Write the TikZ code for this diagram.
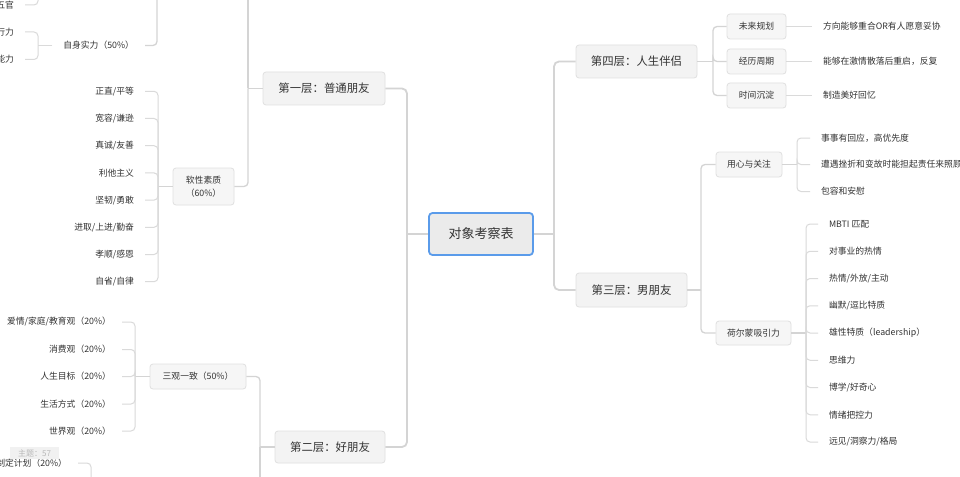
\documentclass[tikz,border=0pt]{standalone}
\usepackage{fontspec}
\setmainfont{Noto Sans CJK SC}
\definecolor{ln}{HTML}{D4D4D4}
\definecolor{lnl}{HTML}{DADADA}
\definecolor{txt}{HTML}{333333}
\definecolor{boxf}{HTML}{F3F3F3}
\definecolor{boxs}{HTML}{F6F6F6}
\definecolor{boxd}{HTML}{E0E0E0}
\definecolor{rootf}{HTML}{EBEBEB}
\definecolor{rootd}{HTML}{5A9BEA}
\definecolor{tagf}{HTML}{F1F1F1}
\definecolor{tagt}{HTML}{B8B8B8}
\tikzset{
  rootbox/.style={draw=rootd, line width=1.8pt, fill=rootf, rounded corners=3.5pt, minimum width=104pt, minimum height=42pt, inner sep=0pt, text=txt, font=\fontsize{13}{15}\selectfont},
  lvone/.style={draw=boxd, line width=0.8pt, fill=boxf, rounded corners=3pt, inner sep=0pt, text=txt, font=\fontsize{11.4}{14}\selectfont},
  lvtwo/.style={draw=boxd, line width=0.8pt, fill=boxs, rounded corners=3pt, inner sep=0pt, text=txt, font=\fontsize{8.8}{12.5}\selectfont, align=center},
  lleaf/.style={inner sep=0pt, outer xsep=11pt, text=txt, font=\fontsize{8.8}{11}\selectfont, anchor=east},
  rleaf/.style={inner sep=0pt, outer xsep=11pt, text=txt, font=\fontsize{8.8}{11}\selectfont, anchor=west},
  mainln/.style={draw=ln, line width=1.8pt, rounded corners=5pt},
  subln/.style={draw=ln, line width=1.3pt, rounded corners=4pt},
  tickln/.style={draw=lnl, line width=1pt, rounded corners=4pt},
  tagbox/.style={fill=tagf, text=tagt, inner sep=0pt, minimum width=49pt, minimum height=12pt, font=\fontsize{8}{10}\selectfont}
}
\begin{document}
\begin{tikzpicture}[x=1pt,y=-1pt]
\useasboundingbox (0,0) rectangle (960,476);
\fill[white] (0,0) rectangle (960,476);
\begin{scope}
\clip (0,0) rectangle (960,476);

% root and level one
\node[rootbox] (root) at (481,234) {对象考察表};
\node[lvone, minimum width=122pt, minimum height=33pt] (l1) at (324,88.5) {第一层：普通朋友};
\node[lvone, minimum width=110pt, minimum height=32pt] (l2) at (330,447) {第二层：好朋友};
\node[lvone, minimum width=121pt, minimum height=33pt] (l4) at (636.5,61.5) {第四层：人生伴侣};
\node[lvone, minimum width=111pt, minimum height=34pt] (l3) at (631.5,290) {第三层：男朋友};

\coordinate (jl) at (407,234);
\draw[mainln] (root.west) -- (jl);
\draw[mainln] (jl) |- (l1.east);
\draw[mainln] (jl) |- (l2.east);
\coordinate (jr) at (554,234);
\draw[mainln] (root.east) -- (jr);
\draw[mainln] (jr) |- (l4.west);
\draw[mainln] (jr) |- (l3.west);

% ---- first layer
\coordinate (j1) at (248,88.5);
\coordinate (offE) at (248,-10);
\draw[subln] (l1.west) -- (j1);
\draw[subln] (j1) -- (offE);
\node[lvtwo, minimum width=61pt, minimum height=37pt] (rx) at (203.5,186.5) {软性素质\\（60\%）};
\draw[subln] (j1) |- (rx.east);

\node[lleaf] (ss) at (145,45.5) {自身实力（50\%）};
\coordinate (offA) at (157,-10);
\draw[subln] (ss.east) -| (offA);
\coordinate (j2) at (38,45.5);
\draw[tickln] (ss.west) -- (j2);
\node[lleaf] (zx) at (25,32) {行力};
\node[lleaf] (nl) at (25,59.5) {能力};
\draw[tickln] (j2) |- (zx.east);
\draw[tickln] (j2) |- (nl.east);
\node[lleaf] (wg) at (25,5) {五官};
\coordinate (offB) at (38,-10);
\draw[tickln] (wg.east) -| (offB);

\coordinate (j3) at (158,186.5);
\draw[subln] (rx.west) -- (j3);
\foreach \t [count=\i from 0] in {正直/平等,宽容/谦逊,真诚/友善,利他主义,坚韧/勇敢,进取/上进/勤奋,孝顺/感恩,自省/自律}{
  \node[lleaf] (rx\i) at (145,{91.3+27.2*\i}) {\t};
  \draw[tickln] (j3) |- (rx\i.east);
}

% ---- second layer
\coordinate (j4) at (260,447);
\coordinate (offC) at (260,490);
\draw[subln] (l2.west) -- (j4);
\draw[subln] (j4) -- (offC);
\node[lvtwo, minimum width=96pt, minimum height=25pt] (sg) at (198,376.5) {三观一致（50\%）};
\draw[subln] (j4) |- (sg.east);
\coordinate (j5) at (135,376.5);
\draw[subln] (sg.west) -- (j5);
\node[lleaf] (sg0) at (122,322) {爱情/家庭/教育观（20\%）};
\node[lleaf] (sg1) at (122,349.5) {消费观（20\%）};
\node[lleaf] (sg2) at (122,376.5) {人生目标（20\%）};
\node[lleaf] (sg3) at (122,404) {生活方式（20\%）};
\node[lleaf] (sg4) at (122,431) {世界观（20\%）};
\foreach \i in {0,...,4}{\draw[tickln] (j5) |- (sg\i.east);}

\node[lleaf] (zd) at (78,463) {制定计划（20\%）};
\coordinate (offD) at (91,490);
\draw[tickln] (zd.east) -| (offD);
\node[tagbox] (tag) at (34.5,453) {主题：57};

% ---- fourth layer
\coordinate (j6) at (713,61.5);
\draw[subln] (l4.east) -- (j6);
\node[lvtwo, minimum width=59pt, minimum height=25pt] (wl) at (756.5,26.5) {未来规划};
\node[lvtwo, minimum width=59pt, minimum height=25pt] (jz) at (756.5,61.5) {经历周期};
\node[lvtwo, minimum width=59pt, minimum height=25pt] (sj) at (756.5,95.5) {时间沉淀};
\draw[subln] (j6) |- (wl.west);
\draw[subln] (j6) |- (jz.west);
\draw[subln] (j6) |- (sj.west);
\node[rleaf] (wlt) at (812,26.5) {方向能够重合OR有人愿意妥协};
\node[rleaf] (jzt) at (812,61.5) {能够在激情散落后重启，反复};
\node[rleaf] (sjt) at (812,95.5) {制造美好回忆};
\draw[tickln] (wl.east) -- (wlt.west);
\draw[tickln] (jz.east) -- (jzt.west);
\draw[tickln] (sj.east) -- (sjt.west);

% ---- third layer
\coordinate (j7) at (701,290);
\draw[subln] (l3.east) -- (j7);
\node[lvtwo, minimum width=66pt, minimum height=25pt] (yx) at (749,164.5) {用心与关注};
\node[lvtwo, minimum width=75pt, minimum height=24pt] (he) at (753.5,333) {荷尔蒙吸引力};
\draw[subln] (j7) |- (yx.west);
\draw[subln] (j7) |- (he.west);

\coordinate (j8) at (797,164.5);
\draw[subln] (yx.east) -- (j8);
\node[rleaf] (yx0) at (810,138) {事事有回应，高优先度};
\node[rleaf] (yx1) at (810,164.5) {遭遇挫折和变故时能担起责任来照顾我};
\node[rleaf] (yx2) at (810,191.5) {包容和安慰};
\foreach \i in {0,1,2}{\draw[tickln] (j8) |- (yx\i.west);}

\coordinate (j9) at (806,333);
\draw[subln] (he.east) -- (j9);
\foreach \t [count=\i from 0] in {MBTI 匹配,对事业的热情,热情/外放/主动,幽默/逗比特质,雄性特质（leadership）,思维力,博学/好奇心,情绪把控力,远见/洞察力/格局}{
  \node[rleaf] (he\i) at (818,{224+27.25*\i}) {\t};
  \draw[tickln] (j9) |- (he\i.west);
}
\end{scope}
\end{tikzpicture}
\end{document}
